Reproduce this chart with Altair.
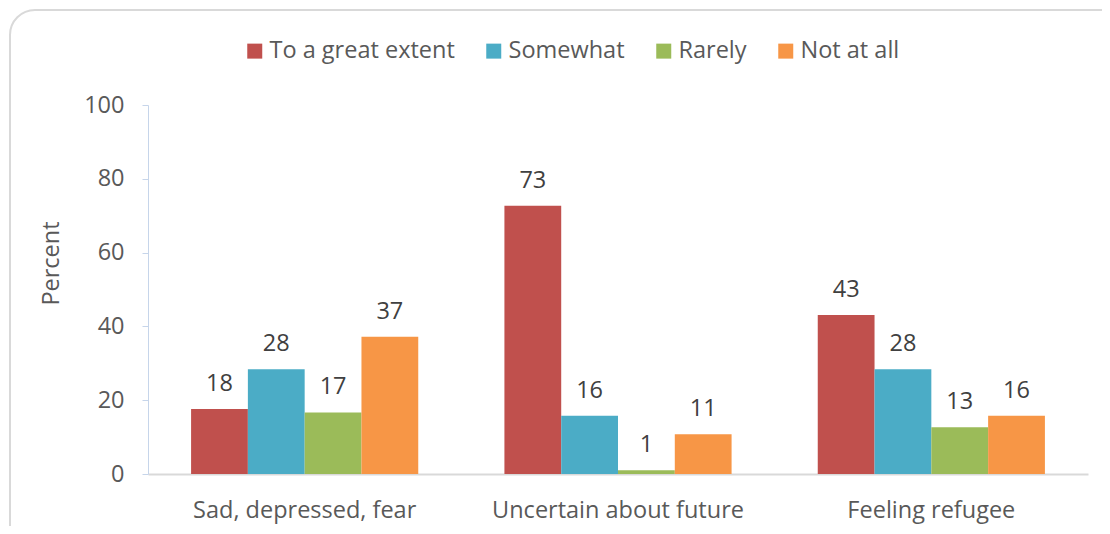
import altair as alt
import pandas as pd

categories = ["Sad, depressed, fear", "Uncertain about future", "Feeling refugee"]
series = ["To a great extent", "Somewhat", "Rarely", "Not at all"]
colors = ["#C0504D", "#4BACC6", "#9BBB59", "#F79646"]
values = {
    "To a great extent": [17.6, 72.7, 43.1],
    "Somewhat": [28.4, 15.8, 28.4],
    "Rarely": [16.7, 1.0, 12.7],
    "Not at all": [37.2, 10.8, 15.8],
}
y_ticks = [0, 20, 40, 60, 80, 100]

rows = []
for s in series:
    for c, v in zip(categories, values[s]):
        rows.append({"category": c, "series": s, "value": v})
df = pd.DataFrame(rows)

FONT = "Open Sans"
FS = 23.5

x_enc = alt.X("category:N", sort=categories,
              scale=alt.Scale(paddingInner=0.275, paddingOuter=0.1375),
              axis=alt.Axis(title=None, labelAngle=0, ticks=False, tickSize=0,
                            labelPadding=24, labelFontSize=FS, labelFont=FONT,
                            labelColor="#595959", domainColor="#D9D9D9",
                            domainWidth=2, labelBaseline="top", labelLimit=1000))
xo_enc = alt.XOffset("series:N", sort=series,
                     scale=alt.Scale(paddingInner=0, paddingOuter=0))
y_enc = alt.Y("value:Q", scale=alt.Scale(domain=[0, 100], nice=False),
              axis=alt.Axis(title="Percent", values=y_ticks, grid=False,
                            tickSize=6, tickColor="#C6D5EA", domainColor="#C6D5EA",
                            labelPadding=18, labelFontSize=FS, labelFont=FONT,
                            labelColor="#595959", titleFont=FONT, titleFontSize=FS,
                            titleFontWeight="normal", titleColor="#595959",
                            titlePadding=20, titleY=158))

border = alt.Chart(pd.DataFrame({"k": [0]})).mark_rect(
    fill=None, stroke="#D9D9D9", strokeWidth=2, cornerRadius=25
).encode(x=alt.value(-138), x2=alt.value(1000), y=alt.value(-95), y2=alt.value(460))

bars = alt.Chart(df).mark_bar().encode(
    x=x_enc, xOffset=xo_enc, y=y_enc,
    color=alt.Color("series:N", sort=series,
                    scale=alt.Scale(domain=series, range=colors),
                    legend=alt.Legend(title=None, orient="none", direction="horizontal",
                                      legendX=95, legendY=-66, symbolType="square",
                                      symbolSize=225, symbolStrokeWidth=0,
                                      labelFont=FONT, labelFontSize=FS,
                                      labelColor="#595959", labelOffset=3,
                                      columnPadding=27, labelLimit=400)),
)

labels = alt.Chart(df).mark_text(
    font=FONT, fontSize=FS, color="#404040", dy=-18, baseline="alphabetic"
).encode(x=alt.X("category:N", sort=categories), xOffset=alt.XOffset("series:N", sort=series),
         y="value:Q", text=alt.Text("value:Q", format=".0f"))

chart = alt.layer(border, bars, labels).properties(
    width=940, height=369,
    autosize=alt.AutoSizeParams(type="none"),
    padding={"left": 140, "top": 97, "right": 14, "bottom": 52},
    background="white",
).configure_view(stroke=None, strokeWidth=0)

chart.save("out.html", embed_options={"renderer": "svg", "actions": False})
